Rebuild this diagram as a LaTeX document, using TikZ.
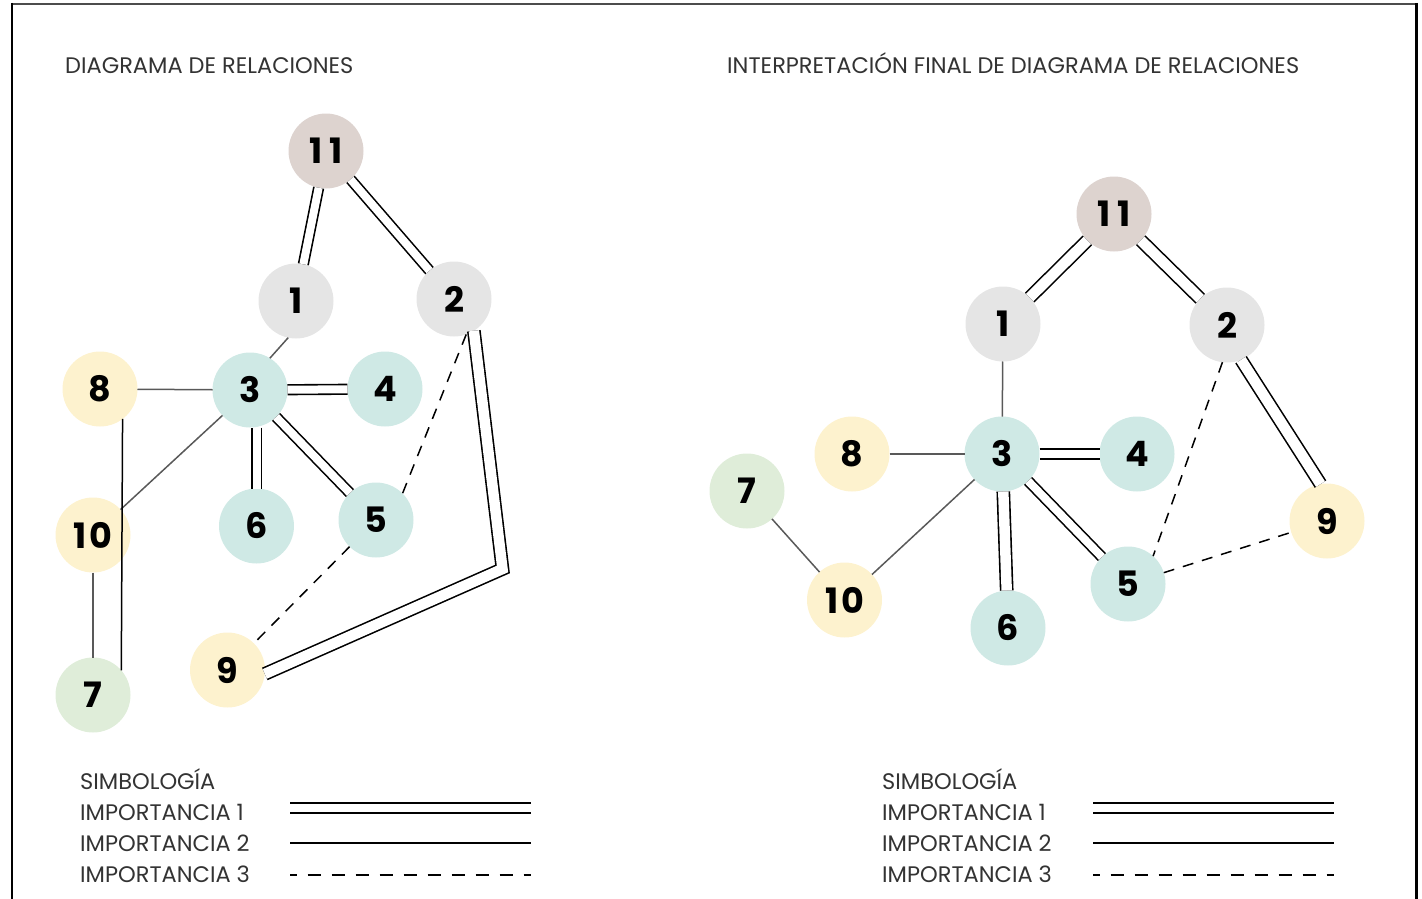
\documentclass[tikz,border=0pt]{standalone}
\usepackage{fontspec}
\setmainfont{Poppins}
\newcommand\advfont{\fontsize{22.5}{25}\selectfont}
\newcommand\eleven{1\kern7pt1}
\newcommand\tenn{1\kern3pt0}
\definecolor{cteal}{HTML}{CFE9E5}
\definecolor{cyel}{HTML}{FDF2CE}
\definecolor{cgray}{HTML}{E5E5E5}
\definecolor{cbrown}{HTML}{DDD3CF}
\definecolor{cgreen}{HTML}{DFEDD9}
\begin{document}
\begin{tikzpicture}[x=1pt,y=-1pt,
  nd/.style={circle, minimum size=75pt, inner sep=0pt, outer sep=0pt, font=\bfseries\fontsize{35}{35}\selectfont},
  teal/.style={nd, fill=cteal},
  yel/.style={nd, fill=cyel},
  gry/.style={nd, fill=cgray},
  brn/.style={nd, fill=cbrown},
  grn/.style={nd, fill=cgreen},
  dbl/.style={draw=black, line width=1.6pt, double=white, double distance=8pt},
  dblw/.style={dbl, double distance=10.5pt},
  sgl/.style={draw=black!65, line width=1.5pt},
  sglb/.style={draw=black, line width=1.5pt},
  dsh/.style={draw=black, line width=1.5pt, dash pattern=on 11pt off 9pt},
  lbl/.style={anchor=base west, inner sep=0pt, font=\advfont, text=black!80},
  lgline/.style={draw=black, line width=2pt},
  lgdash/.style={draw=black, line width=2pt, dash pattern=on 13pt off 11pt, dash phase=6.5pt}
]
\useasboundingbox (0,0) rectangle (1422,899);
% frame
\draw[line width=2pt, black!70] (12,4) -- (1415,4);
\draw[line width=2.5pt, black] (12,3) -- (12,899);
\draw[line width=3pt, black] (1416,3) -- (1416,899);

% titles
\node[lbl] (tL) at (65,74) {DIAGRAMA DE RELACIONES};
\node[lbl] (tR) at (727,74) {INTERPRETACIÓN FINAL DE DIAGRAMA DE RELACIONES};

% ---------- left diagram ----------
\node[brn]  (L11) at (326,151) {\eleven};
\node[gry]  (L1)  at (296,301) {1};
\node[gry]  (L2)  at (454,299) {2};
\node[yel]  (L8)  at (100,389) {8};
\node[teal] (L3)  at (250,390) {3};
\node[teal] (L4)  at (385,389) {4};
\node[yel]  (L10) at (93,535)  {\tenn};
\node[teal] (L6)  at (256.5,526) {6};
\node[teal] (L5)  at (376,520) {5};
\node[yel]  (L9)  at (227.5,670) {9};
\node[grn]  (L7)  at (93,695)  {7};
\coordinate (c29) at (502.5,569);

\draw[dbl] (L11) -- (L1);
\draw[dbl] (L11) -- (L2);
\draw[sgl] (L1.-102) -- (L3.58);
\draw[sgl] (L8) -- (L3);
\draw[dbl] (L3) -- (L4);
\draw[dbl] (L6.north |- L3.south) -- (L6.north);
\draw[dbl] (L3) -- (L5);
\draw[sgl] (L3) -- (L10);
\draw[sgl] (L10) -- (L7);
\draw[sglb] (L8.-53) -- (L7.41);
\draw[dsh] (L2.-71) -- (L5.45);
\draw[dsh] (L5) -- (L9);
\draw[dblw, line join=miter] (L2.-58) -- (c29) -- (L9.-6);

% ---------- right diagram ----------
\node[brn]  (R11) at (1114,214) {\eleven};
\node[gry]  (R1)  at (1003,324) {1};
\node[gry]  (R2)  at (1227,325) {2};
\node[yel]  (R8)  at (852,454)  {8};
\node[teal] (R3)  at (1002,454) {3};
\node[teal] (R4)  at (1137,454) {4};
\node[grn]  (R7)  at (747,491)  {7};
\node[yel]  (R9)  at (1327,521) {9};
\node[teal] (R5)  at (1128,584) {5};
\node[yel]  (R10) at (844.5,600) {\tenn};
\node[teal] (R6)  at (1008,628) {6};

\draw[dblw] (R11) -- (R1);
\draw[dblw] (R11) -- (R2);
\draw[sgl] (R1) -- (R3);
\draw[sgl] (R8) -- (R3);
\draw[dbl] (R3) -- (R4);
\draw[dblw] (R3) -- (R6);
\draw[dbl] (R3) -- (R5);
\draw[sgl] (R3) -- (R10);
\draw[sgl] (R7) -- (R10);
\draw[dblw] (R2.-68) -- (R9.100);
\draw[dsh] (R2.-97) -- (R5.48);
\draw[dsh] (R5) -- (R9);

% ---------- legends ----------
\node[lbl] (sL) at (80,789) {SIMBOLOGÍA};
\node[lbl] (i1L) at (80,820) {IMPORTANCIA 1};
\node[lbl] (i2L) at (80,851) {IMPORTANCIA 2};
\node[lbl] (i3L) at (80,882) {IMPORTANCIA 3};
\coordinate (a1L) at (290,803); \coordinate (b1L) at (531,803);
\coordinate (a2L) at (290,813); \coordinate (b2L) at (531,813);
\coordinate (a3L) at (290,843); \coordinate (b3L) at (531,843);
\coordinate (a4L) at (290,875); \coordinate (b4L) at (531,875);
\draw[lgline] (a1L) -- (b1L);
\draw[lgline] (a2L) -- (b2L);
\draw[lgline] (a3L) -- (b3L);
\draw[lgdash] (a4L) -- (b4L);

\node[lbl] (sR) at (882,789) {SIMBOLOGÍA};
\node[lbl] (i1R) at (882,820) {IMPORTANCIA 1};
\node[lbl] (i2R) at (882,851) {IMPORTANCIA 2};
\node[lbl] (i3R) at (882,882) {IMPORTANCIA 3};
\coordinate (a1R) at (1093,803); \coordinate (b1R) at (1334,803);
\coordinate (a2R) at (1093,813); \coordinate (b2R) at (1334,813);
\coordinate (a3R) at (1093,843); \coordinate (b3R) at (1334,843);
\coordinate (a4R) at (1093,875); \coordinate (b4R) at (1334,875);
\draw[lgline] (a1R) -- (b1R);
\draw[lgline] (a2R) -- (b2R);
\draw[lgline] (a3R) -- (b3R);
\draw[lgdash] (a4R) -- (b4R);
\end{tikzpicture}
\end{document}
